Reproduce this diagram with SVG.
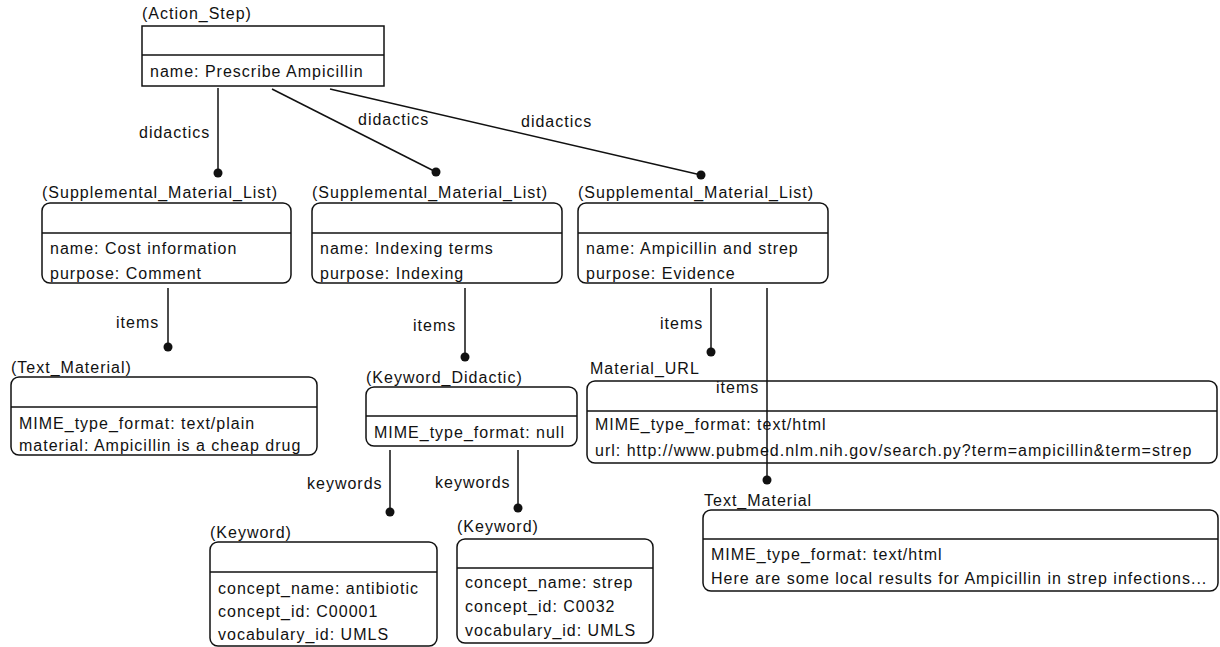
<svg xmlns="http://www.w3.org/2000/svg" width="1220" height="647" viewBox="0 0 1220 647">
  <style>
    text { font-family: "Liberation Sans", Arial, sans-serif; font-size: 16px; letter-spacing: 1px; fill: #111; }
    .box { fill: #fff; stroke: #111; stroke-width: 1.5; }
    .div { stroke: #111; stroke-width: 1.5; }
    .conn line { stroke: #111; stroke-width: 1.5; }
    .conn circle { fill: #111; }
  </style>
  <rect width="1220" height="647" fill="#fff"/>

  <!-- associations -->
  <g id="connectors" class="conn">
    <line x1="218" y1="88" x2="218" y2="173"/><circle cx="218" cy="173" r="4.5"/>
    <line x1="272" y1="89" x2="436" y2="172"/><circle cx="436" cy="172" r="4.5"/>
    <line x1="330" y1="89" x2="701" y2="175"/><circle cx="701" cy="175" r="4.5"/>
    <line x1="168" y1="288" x2="168" y2="347"/><circle cx="168" cy="347" r="4.5"/>
    <line x1="465" y1="288" x2="465" y2="357"/><circle cx="465" cy="357" r="4.5"/>
    <line x1="711" y1="288" x2="711" y2="352"/><circle cx="711" cy="352" r="4.5"/>
    <line x1="390" y1="450" x2="390" y2="512"/><circle cx="390" cy="512" r="4.5"/>
    <line x1="518" y1="450" x2="518" y2="508"/><circle cx="518" cy="508" r="4.5"/>
    <text x="139" y="138">didactics</text>
    <text x="358" y="125">didactics</text>
    <text x="521" y="127">didactics</text>
    <text x="116" y="328">items</text>
    <text x="413" y="331">items</text>
    <text x="660" y="329">items</text>
    <text x="307" y="489">keywords</text>
    <text x="435" y="488">keywords</text>
  </g>

  <g id="action_step">
    <text x="142" y="19">(Action_Step)</text>
    <rect class="box" x="142" y="26" width="242" height="60"/>
    <line class="div" x1="142" y1="55" x2="384" y2="55"/>
    <text x="150" y="77">name: Prescribe Ampicillin</text>
  </g>

  <g id="sml_cost">
    <text x="42" y="198">(Supplemental_Material_List)</text>
    <rect class="box" x="42" y="203" width="249" height="80" rx="8"/>
    <line class="div" x1="42" y1="233" x2="291" y2="233"/>
    <text x="50" y="254">name: Cost information</text>
    <text x="50" y="279">purpose: Comment</text>
  </g>

  <g id="sml_indexing">
    <text x="312" y="198">(Supplemental_Material_List)</text>
    <rect class="box" x="312" y="203" width="250" height="80" rx="8"/>
    <line class="div" x1="312" y1="233" x2="562" y2="233"/>
    <text x="320" y="254">name: Indexing terms</text>
    <text x="320" y="279">purpose: Indexing</text>
  </g>

  <g id="sml_evidence">
    <text x="578" y="198">(Supplemental_Material_List)</text>
    <rect class="box" x="578" y="203" width="250" height="80" rx="8"/>
    <line class="div" x1="578" y1="233" x2="828" y2="233"/>
    <text x="586" y="254">name: Ampicillin and strep</text>
    <text x="586" y="279">purpose: Evidence</text>
  </g>

  <g id="text_material_cost">
    <text x="11" y="373">(Text_Material)</text>
    <rect class="box" x="11" y="377" width="306" height="78" rx="8"/>
    <line class="div" x1="11" y1="407" x2="317" y2="407"/>
    <text x="19" y="429">MIME_type_format: text/plain</text>
    <text x="19" y="451">material: Ampicillin is a cheap drug</text>
  </g>

  <g id="keyword_didactic">
    <text x="366" y="383">(Keyword_Didactic)</text>
    <rect class="box" x="366" y="387" width="211" height="59" rx="8"/>
    <line class="div" x1="366" y1="416" x2="577" y2="416"/>
    <text x="374" y="438">MIME_type_format: null</text>
  </g>

  <g id="material_url">
    <text x="590" y="374">Material_URL</text>
    <rect class="box" x="587" y="381" width="630" height="82" rx="8"/>
    <line class="div" x1="587" y1="411" x2="1217" y2="411"/>
    <text x="595" y="430">MIME_type_format: text/html</text>
    <text x="595" y="456">url: http://www.pubmed.nlm.nih.gov/search.py?term=ampicillin&amp;term=strep</text>
  </g>

  <g id="text_material_local">
    <text x="704" y="506">Text_Material</text>
    <rect class="box" x="703" y="510" width="515" height="81" rx="8"/>
    <line class="div" x1="703" y1="539" x2="1218" y2="539"/>
    <text x="711" y="560">MIME_type_format: text/html</text>
    <text x="711" y="584">Here are some local results for Ampicillin in strep infections...</text>
  </g>

  <g id="keyword_antibiotic">
    <text x="210" y="538">(Keyword)</text>
    <rect class="box" x="210" y="542" width="227" height="104" rx="8"/>
    <line class="div" x1="210" y1="572" x2="437" y2="572"/>
    <text x="218" y="594">concept_name: antibiotic</text>
    <text x="218" y="617">concept_id: C00001</text>
    <text x="218" y="640">vocabulary_id: UMLS</text>
  </g>

  <g id="keyword_strep">
    <text x="457" y="532">(Keyword)</text>
    <rect class="box" x="457" y="539" width="196" height="104" rx="8"/>
    <line class="div" x1="457" y1="568" x2="653" y2="568"/>
    <text x="465" y="588">concept_name: strep</text>
    <text x="465" y="612">concept_id: C0032</text>
    <text x="465" y="636">vocabulary_id: UMLS</text>
  </g>

  <!-- this link is drawn over the Material_URL box -->
  <g id="items_overlay" class="conn">
    <line x1="767" y1="288" x2="767" y2="480"/><circle cx="767" cy="480" r="4.5"/>
    <text x="716" y="393">items</text>
  </g>
</svg>
